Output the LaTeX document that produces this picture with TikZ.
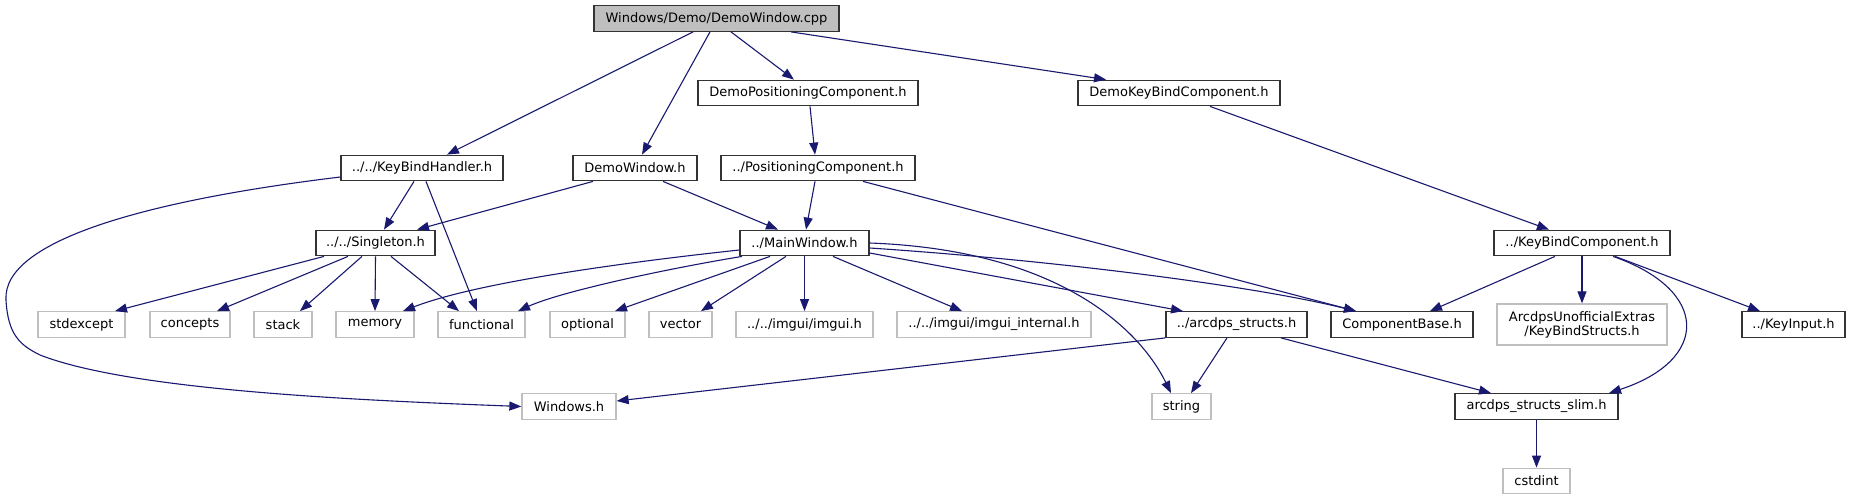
\documentclass[tikz,border=0pt]{standalone}
\usepackage{fontspec}
\setmainfont{DejaVu Sans}
\usetikzlibrary{arrows.meta}
\definecolor{edgec}{HTML}{191970}
\definecolor{grayb}{HTML}{BFBFBF}
\begin{document}
\begin{tikzpicture}[x=1pt,y=-1pt,
  box/.style={draw=black!80, line width=1.3pt, minimum height=25.5pt, inner sep=0pt,
    font=\fontsize{13}{14}\selectfont, fill=white, align=center},
  ext/.style={box, draw=grayb},
  edge/.style={draw=edgec, line width=1.1pt, -{Triangle[length=12pt,width=9pt]}}
]
\useasboundingbox[fill=white] (0,0) rectangle (1851,500);
% row 0
\node[box, fill=grayb, minimum width=245pt] (root) at (716.5,18.5) {Windows/Demo/DemoWindow.cpp};
% row 1
\node[box, minimum width=220pt] (dpc) at (808,93) {DemoPositioningComponent.h};
\node[box, minimum width=202pt] (dkb) at (1179,93) {DemoKeyBindComponent.h};
% row 2
\node[box, minimum width=162pt] (kbh) at (422,168) {../../KeyBindHandler.h};
\node[box, minimum width=124pt] (dw) at (635,168) {DemoWindow.h};
\node[box, minimum width=194pt] (pc) at (818,168) {../PositioningComponent.h};
% row 3
\node[box, minimum width=119pt] (sing) at (375.5,243) {../../Singleton.h};
\node[box, minimum width=129pt] (mw) at (804.5,243) {../MainWindow.h};
\node[box, minimum width=176pt] (kbc) at (1582,243) {../KeyBindComponent.h};
% row 4
\node[ext, minimum width=87pt] (stdexcept) at (81.5,324.5) {stdexcept};
\node[ext, minimum width=80pt] (concepts) at (190,324.5) {concepts};
\node[ext, minimum width=58pt] (stack) at (283,324.5) {stack};
\node[ext, minimum width=78pt] (memory) at (375,324.5) {memory};
\node[ext, minimum width=87pt] (func) at (481.5,324.5) {functional};
\node[ext, minimum width=75pt] (optional) at (587.5,324.5) {optional};
\node[ext, minimum width=63pt] (vector) at (680.5,324.5) {vector};
\node[ext, minimum width=137pt] (imgui) at (804.5,324.5) {../../imgui/imgui.h};
\node[ext, minimum width=194pt] (imguiint) at (994,324.5) {../../imgui/imgui\_internal.h};
\node[box, minimum width=141pt] (arcs) at (1236.5,324.5) {../arcdps\_structs.h};
\node[box, minimum width=142pt] (cb) at (1402,324.5) {ComponentBase.h};
\node[ext, minimum width=170pt, minimum height=41pt] (kbs) at (1582,324.5) {ArcdpsUnofficialExtras\\/KeyBindStructs.h};
\node[box, minimum width=103pt] (ki) at (1793.5,324.5) {../KeyInput.h};
% row 5
\node[ext, minimum width=94pt] (win) at (569,406.5) {Windows.h};
\node[ext, minimum width=59pt] (string) at (1181.5,406.5) {string};
\node[box, minimum width=163pt] (slim) at (1536.5,406.5) {arcdps\_structs\_slim.h};
% row 6
\node[ext, minimum width=67pt] (cstdint) at (1536.5,481) {cstdint};

% edges from root
\draw[edge] ([xshift=-23.5pt]root.south) -- ([xshift=25pt]kbh.north);
\draw[edge] ([xshift=-6.5pt]root.south) -- ([xshift=7pt]dw.north);
\draw[edge] ([xshift=14.5pt]root.south) -- ([xshift=-14pt]dpc.north);
\draw[edge] ([xshift=74.5pt]root.south) -- ([xshift=-73pt]dkb.north);
% row 1
\draw[edge] ([xshift=2pt]dpc.south) -- ([xshift=-3pt]pc.north);
\draw[edge] ([xshift=31pt]dkb.south) -- ([xshift=-33pt]kbc.north);
% KeyBindHandler
\draw[edge] ([xshift=-8pt]kbh.south) -- ([xshift=8.5pt]sing.north);
\draw[edge] ([xshift=4pt]kbh.south) -- ([xshift=-4.5pt]func.north);
\draw[edge] ([yshift=-9pt]kbh.west) .. controls (150,200) and (2,240) .. (6,300)
  .. controls (8,335) and (20,345) .. (40,355)
  .. controls (130,390) and (350,400) .. (win.west);
% DemoWindow
\draw[edge] ([xshift=-42pt]dw.south) -- ([xshift=41.5pt]sing.north);
\draw[edge] ([xshift=28pt]dw.south) -- ([xshift=-26.5pt]mw.north);
% PositioningComponent
\draw[edge] ([xshift=-3pt]pc.south) -- ([xshift=1.5pt]mw.north);
\draw[edge] ([xshift=45pt]pc.south) -- ([xshift=-46pt]cb.north);
% Singleton
\draw[edge] ([xshift=-51.5pt]sing.south) -- ([xshift=33.5pt]stdexcept.north);
\draw[edge] ([xshift=-27.5pt]sing.south) -- ([xshift=27pt]concepts.north);
\draw[edge] ([xshift=-13.5pt]sing.south) -- ([xshift=17pt]stack.north);
\draw[edge] (sing.south) -- (memory.north);
\draw[edge] ([xshift=15.5pt]sing.south) -- ([xshift=-22.5pt]func.north);
% MainWindow
\draw[edge] ([yshift=-7pt]mw.west) .. controls (600,265) and (470,285) .. ([xshift=28pt]memory.north);
\draw[edge] ([xshift=-62.5pt]mw.south) .. controls (660,270) and (560,292) .. ([xshift=36.5pt]func.north);
\draw[edge] ([xshift=-34.5pt]mw.south) -- ([xshift=27.5pt]optional.north);
\draw[edge] ([xshift=-18.5pt]mw.south) -- ([xshift=20.5pt]vector.north);
\draw[edge] (mw.south) -- (imgui.north);
\draw[edge] ([xshift=28.5pt]mw.south) -- ([xshift=-32pt]imguiint.north);
\draw[edge] ([yshift=-10pt]mw.east) -- ([xshift=-53.5pt]arcs.north);
\draw[edge] ([yshift=-5pt]mw.east) .. controls (1050,260) and (1250,285) .. ([xshift=-46pt]cb.north);
\draw[edge] (mw.east) .. controls (1060,250) and (1140,330) .. ([xshift=-10.5pt]string.north);
% arcdps_structs
\draw[edge] (arcs.south west) -- ([yshift=5.5pt]win.east);
\draw[edge] ([xshift=-9.5pt]arcs.south) -- ([xshift=9.5pt]string.north);
\draw[edge] ([xshift=44.5pt]arcs.south) -- ([xshift=-45.5pt]slim.north);
% KeyBindComponent
\draw[edge] ([xshift=-27pt]kbc.south) -- ([xshift=28pt]cb.north);
\draw[edge] (kbc.south) -- (kbs.north);
\draw[edge] ([xshift=31pt]kbc.south) .. controls (1710,290) and (1710,360) .. ([xshift=72.5pt]slim.north);
\draw[edge] ([xshift=33pt]kbc.south) -- ([xshift=-33.5pt]ki.north);
% slim
\draw[edge] (slim.south) -- (cstdint.north);
\end{tikzpicture}
\end{document}
